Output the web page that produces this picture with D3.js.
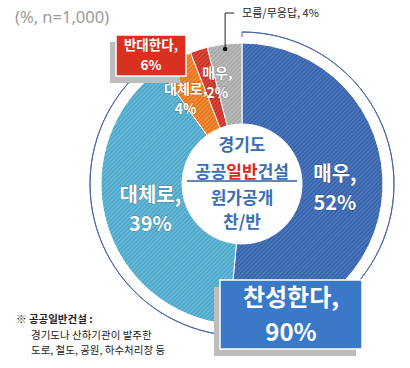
<!DOCTYPE html>
<html>
<head>
<meta charset="utf-8">
<script src="https://cdn.jsdelivr.net/npm/d3@7"></script>
<style>
  body { margin: 0; background: #fff; }
  svg { display: block; font-family: "Noto Sans CJK KR", "Noto Sans", sans-serif; }
</style>
</head>
<body>
<div id="chart"></div>
<script>
// --- Data ---
const categories = ["매우 찬성", "대체로 찬성", "대체로 반대", "매우 반대", "모름/무응답"];
const values = [52, 39, 4, 2, 4];
const sliceLabels = [["매우,", "52%"], ["대체로,", "39%"], ["대체로,", "4%"], ["매우,", "2%"], null];
const groupLabels = [["찬성한다,", "90%"], ["반대한다,", "6%"]];
const noteLine = "모름/무응답, 4%";
const sampleNote = "(%, n=1,000)";
const centerLines = ["경기도", "공공일반건설", "원가공개", "찬/반"];
const footnote = ["공공일반건설 :", "경기도나 산하기관이 발주한", "도로, 철도, 공원, 하수처리장 등"];

const W = 410, H = 368;
const cx = 242, cy = 184;
const rInner = 60, rOuter = 141, rRing = 152;

const palette = [
  { base: "#3764ad", stripe: "#6d95d1" },
  { base: "#4ea8cb", stripe: "#93d3e8" },
  { base: "#ea7619", stripe: "#f8b577" },
  { base: "#cc3023", stripe: "#ea7a70" },
  { base: "#a9a9a9", stripe: "#d6d6d6" }
];

const svg = d3.select("#chart").append("svg")
  .attr("width", W).attr("height", H);

// hatch patterns
const defs = svg.append("defs");
palette.forEach((p, i) => {
  const pat = defs.append("pattern")
    .attr("id", "hatch" + i)
    .attr("patternUnits", "userSpaceOnUse")
    .attr("width", 3).attr("height", 3)
    .attr("patternTransform", "rotate(45)");
  pat.append("rect").attr("width", 3).attr("height", 3).attr("fill", p.base);
  pat.append("line").attr("x1", 0).attr("y1", 0).attr("x2", 0).attr("y2", 3)
    .attr("stroke", p.stripe).attr("stroke-width", 1.1);
});

const g = svg.append("g").attr("transform", `translate(${cx},${cy})`);

const pie = d3.pie().sort(null).value(d => d);
const arcs = pie(values);
const arc = d3.arc().innerRadius(rInner).outerRadius(rOuter);

// outer ring spanning the "찬성" slices
const ringEnd = arcs[1].endAngle;
g.append("path")
  .attr("d", d3.arc().innerRadius(rRing).outerRadius(rRing).startAngle(0).endAngle(ringEnd)())
  .attr("fill", "none").attr("stroke", "#4a68a6").attr("stroke-width", 1);
g.append("line")
  .attr("x1", 0).attr("y1", -rRing).attr("x2", 0).attr("y2", -rRing + 5)
  .attr("stroke", "#4a68a6").attr("stroke-width", 1);

// slices
g.selectAll("path.slice").data(arcs).join("path")
  .attr("class", "slice")
  .attr("d", arc)
  .attr("fill", (d, i) => `url(#hatch${i})`)
  .attr("stroke", "#fff").attr("stroke-width", 1);

// slice labels
const labelArc = d3.arc().innerRadius(rInner + 37).outerRadius(rInner + 37);
const bigFont = 20, smallFont = 14;
const nudges = [[-4, 0], [2, 0], [-10, 0], [5, -9], [0, 0]];
arcs.forEach((a, i) => {
  const lines = sliceLabels[i];
  if (!lines) return;
  const [x, y] = labelArc.centroid(a);
  const big = values[i] > 10;
  const fs = big ? bigFont : smallFont;
  const lh = big ? 29 : 20;
  const t = g.append("text")
    .attr("text-anchor", "middle")
    .attr("fill", "#fff")
    .attr("font-weight", "bold")
    .attr("font-size", fs)
    .style("paint-order", "stroke")
    .attr("stroke", "rgba(0,0,0,0.25)").attr("stroke-width", 1);
  lines.forEach((s, k) => {
    t.append("tspan")
      .attr("x", x + nudges[i][0])
      .attr("y", y + nudges[i][1] + (k - 0.5) * lh + fs * 0.35)
      .text(s);
  });
});

// leader for "모름/무응답"
const grayArc = arcs[4];
const dotPos = d3.arc().innerRadius(rOuter - 5).outerRadius(rOuter - 5).centroid(grayArc);
const leadTop = -rRing - 19;
g.append("polyline")
  .attr("points", `${dotPos[0]},${dotPos[1]} ${dotPos[0]},${leadTop} ${dotPos[0] + 9},${leadTop}`)
  .attr("fill", "none").attr("stroke", "#222").attr("stroke-width", 1);
g.append("circle").attr("cx", dotPos[0]).attr("cy", dotPos[1]).attr("r", 2.3).attr("fill", "#111");
g.append("text")
  .attr("x", dotPos[0] + 17).attr("y", leadTop + 4)
  .attr("font-size", 11).attr("fill", "#222")
  .text(noteLine);

// center circle text
const ct = g.append("g").attr("fill", "#3b6db5").attr("font-weight", "bold")
  .attr("font-size", 17).attr("text-anchor", "middle");
const cYs = [-39, -12, 14, 38];
centerLines.forEach((s, k) => {
  const t = ct.append("text").attr("x", 0).attr("y", cYs[k] + 6);
  if (k === 1) {
    t.append("tspan").text("공공");
    t.append("tspan").attr("fill", "#e0261c").text("일반");
    t.append("tspan").text("건설");
  } else {
    t.text(s);
  }
});
g.append("line").attr("x1", -55).attr("x2", 55).attr("y1", -3).attr("y2", -3)
  .attr("stroke", "#2f5ea8").attr("stroke-width", 1.5);

// group label boxes
function box(x, y, w, h, fill, lines, fs, lh) {
  svg.append("rect").attr("x", x - 6).attr("y", y + 7).attr("width", w).attr("height", h)
    .attr("fill", "#bdbdbd");
  svg.append("rect").attr("x", x).attr("y", y).attr("width", w).attr("height", h)
    .attr("fill", fill).attr("stroke", "#fff").attr("stroke-width", 1.5);
  const t = svg.append("text").attr("text-anchor", "middle").attr("fill", "#fff")
    .attr("font-weight", "bold").attr("font-size", fs);
  lines.forEach((s, k) => {
    t.append("tspan").attr("x", x + w / 2)
      .attr("y", y + h / 2 + (k - 0.5) * lh + fs * 0.36).text(s);
  });
}
box(116, 35, 70, 41, "#d9301f", groupLabels[1], 13.5, 20);
box(220, 280, 142, 69, "#3a78c8", groupLabels[0], 24, 35);

// sample note
svg.append("text").attr("x", 15).attr("y", 23)
  .attr("font-size", 16.5).attr("fill", "#9a9a9a")
  .attr("font-family", "'Noto Sans', sans-serif")
  .text(sampleNote);

// footnote
const fn = svg.append("g").attr("font-size", 10.5).attr("fill", "#222");
fn.append("text").attr("x", 16).attr("y", 323).attr("font-weight", "bold")
  .text("※ " + footnote[0]);
fn.append("text").attr("x", 31).attr("y", 338.5).text(footnote[1]);
fn.append("text").attr("x", 31).attr("y", 354).text(footnote[2]);
</script>
</body>
</html>
